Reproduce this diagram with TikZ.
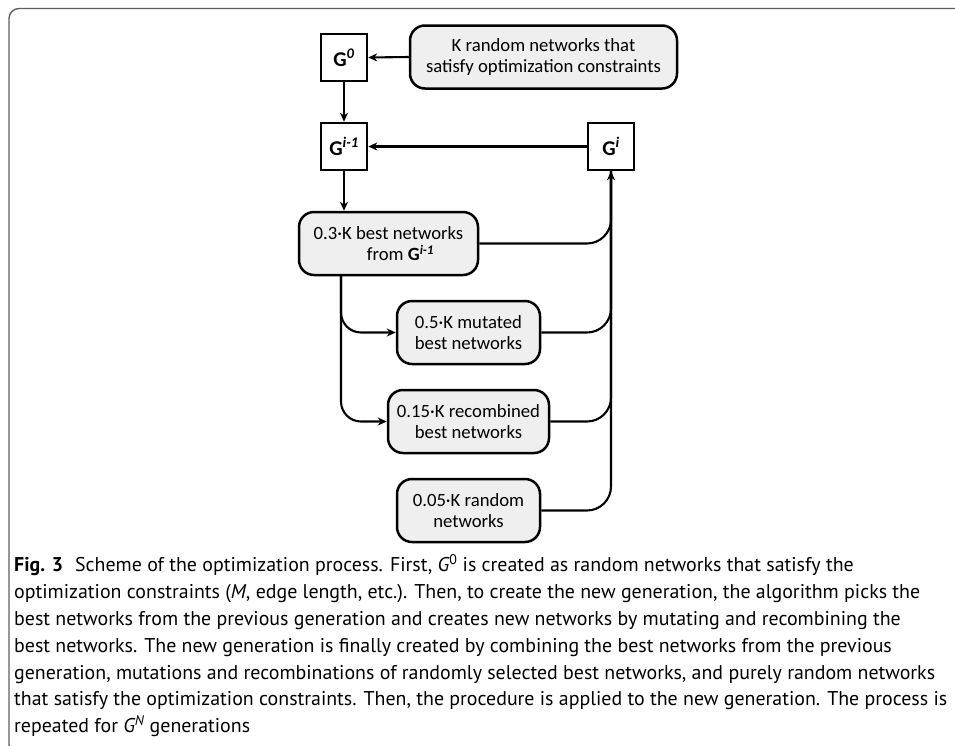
\documentclass[tikz,border=0pt]{standalone}
\usepackage{fontspec}
\setmainfont{Carlito}
\newfontfamily\capfont{PT Sans}
\usetikzlibrary{arrows.meta}
\definecolor{boxgray}{RGB}{239,239,239}
\definecolor{framegray}{RGB}{95,95,95}
\begin{document}
\begin{tikzpicture}[x=1pt,y=-1pt,
  gbox/.style={draw, line width=2.5pt, fill=white, minimum width=46pt, minimum height=47pt, inner sep=0pt, font=\fontsize{21}{24}\selectfont\bfseries},
  rbox/.style={draw, line width=2.5pt, fill=boxgray, rounded corners=15pt, inner sep=0pt, minimum height=63pt, align=center, font=\fontsize{18.7}{21.8}\selectfont},
  arr/.style={line width=2.1pt, -{Stealth[length=9pt,width=8pt]}},
  ln/.style={line width=2.1pt},
  captext/.style={anchor=base west, inner sep=0pt, font=\capfont\fontsize{19.9}{26.8}\selectfont}
]
\useasboundingbox (0,0) rectangle (955,745);
% frame
\draw[framegray, line width=1.4pt, rounded corners=10pt] (960,8.5) -- (9,8.5) -- (9,755) -- (40,755);

% nodes
\node[gbox] (g0) at (344,57.5) {G\textsuperscript{\itshape 0}};
\node[rbox, minimum width=267pt] (krand) at (543.5,57) {K random networks that\\satisfy optimization constraints};
\node[gbox] (gim1) at (344,146.5) {G\textsuperscript{\itshape i-1}};
\node[gbox] (gi) at (611,146.5) {G\textsuperscript{\itshape i}};
\node[rbox, minimum width=179pt] (best) at (388.5,243.5) {0.3·K best networks\\\hspace*{24pt}from \textbf{G}\textsuperscript{\bfseries\itshape i-1}};
\node[rbox, minimum width=143pt] (mut) at (468.5,332.5) {0.5·K mutated\\best networks};
\node[rbox, minimum width=161pt] (rec) at (468.5,421.5) {0.15·K recombined\\best networks};
\node[rbox, minimum width=143pt] (rnd) at (468.5,510.5) {0.05·K random\\networks};

% connectors
\draw[arr] (krand.west) -- (g0.east);
\draw[arr] (g0.south) -- (gim1.north);
\draw[arr] (gi.west) -- (gim1.east);
\draw[arr] (gim1.south) -- (gim1.south |- best.north);
\coordinate (bs) at (341,275);
\draw[arr, rounded corners=20pt] (bs) |- (mut.west);
\draw[arr, rounded corners=20pt] (bs) |- (rec.west);
\draw[ln, rounded corners=24pt] (best.east) -| (gi.south);
\draw[ln, rounded corners=24pt] (mut.east) -| (gi.south);
\draw[ln, rounded corners=24pt] (rec.east) -| (gi.south);
\draw[arr, rounded corners=24pt] (rnd.east) -| (gi.south);

% caption
\node[captext] (c1) at (14,571.7) {\textbf{Fig. 3}\hspace{0.6em}Scheme of the optimization process. First, {\itshape G}\textsuperscript{0} is created as random networks that satisfy the};
\node[captext] (c2) at (14,598.5) {optimization constraints ({\itshape M}, edge length, etc.). Then, to create the new generation, the algorithm picks the};
\node[captext] (c3) at (14,625.3) {best networks from the previous generation and creates new networks by mutating and recombining the};
\node[captext] (c4) at (14,652.2) {best networks. The new generation is finally created by combining the best networks from the previous};
\node[captext] (c5) at (14,679.0) {generation, mutations and recombinations of randomly selected best networks, and purely random networks};
\node[captext] (c6) at (14,705.9) {that satisfy the optimization constraints. Then, the procedure is applied to the new generation. The process is};
\node[captext] (c7) at (14,732.7) {repeated for {\itshape G\textsuperscript{N}} generations};
\end{tikzpicture}
\end{document}
